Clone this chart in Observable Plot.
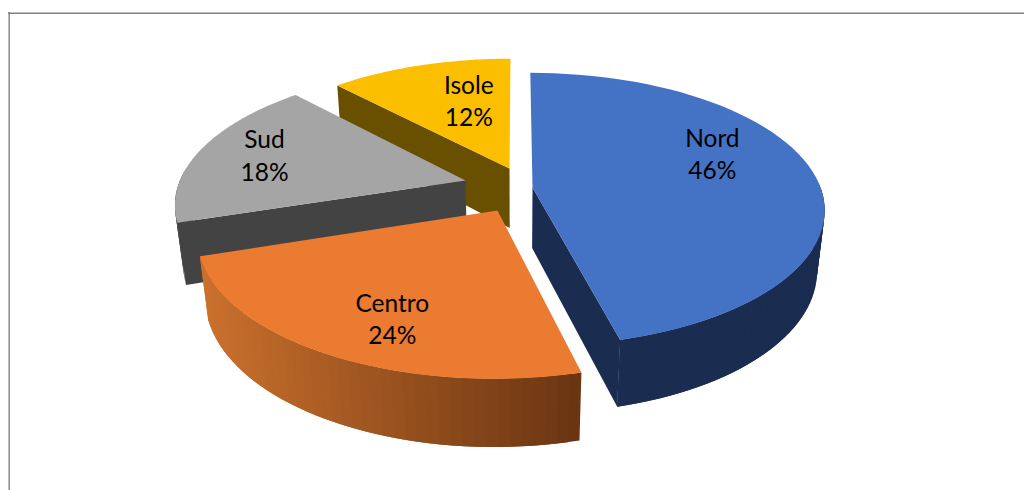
<!DOCTYPE html>
<html><head><meta charset="utf-8">
<style>html,body{margin:0;padding:0;background:#fff}svg{display:block}</style>
<script src="https://cdn.jsdelivr.net/npm/d3@7"></script>
<script src="https://cdn.jsdelivr.net/npm/@observablehq/plot@0.6"></script>
</head><body><script>
const categories = ["Nord","Centro","Sud","Isole"];
const percents = [46,24,18,12];
const topColors = ["#4472c4","#ea7b30","#a5a5a5","#fbbf00"];
const cutColors = ["#1a2c50","#8a4a1c","#434343","#685000"];
const wallFrom = ["#1f3461","#6b3512","#4a4a4a","#685000"];
const wallTo   = ["#1a2c50","#cb712d","#4a4a4a","#685000"];
const offsetX = [0.0556,-0.0643,-0.1785,-0.0248];
const offsetY = [0,-0.169,0.054,0.146];
const labelRadius = [0.70,0.754,0.755,0.599];
const labelAngle = [68.7,204.1,284.6,344.5];

// camera
const cam = {cx:516, cy:187, a:288, b:133, k:0.16, c:62, m:0.025};
const project = (X,Y,down) => {
  const w = 1 + cam.k*Y + cam.m*down;
  return [cam.cx + cam.a*X/w, cam.cy + (-cam.b*Y + cam.c*down)/w];
};
const rad = d => d*Math.PI/180;
const rim = (i,ang,down) => project(offsetX[i]+Math.sin(rad(ang)), offsetY[i]+Math.cos(rad(ang)), down);
const apex = (i,down) => project(offsetX[i], offsetY[i], down);

let start = 0;
const slices = categories.map((name,i)=>{ const s={name,i,a0:start,a1:start+percents[i]*3.6}; start=s.a1; return s; });

const polys = [];
const add = (id,color,pts) => pts.forEach(p => polys.push({id,color,x:p[0],y:p[1]}));
for (const i of [3,2,0,1]) {
  const s = slices[i];
  // outer curved wall: overlapping strips facing the viewer, shaded by horizontal position
  const n = Math.ceil((s.a1-s.a0)/2);
  const shade = d3.interpolateRgb(wallFrom[i],wallTo[i]);
  const xs = d3.extent(d3.range(n+1),j=>rim(i,s.a0+(s.a1-s.a0)*j/n,0)[0]);
  for (let j=0;j<n;j++){
    const u0=s.a0+(s.a1-s.a0)*j/n, u1=Math.min(s.a1,s.a0+(s.a1-s.a0)*(j+2)/n);
    if (Math.cos(rad(u0))>0.05) continue;
    const sx=rim(i,u0,0)[0];
    const t = i===0 ? Math.min(1,(xs[0]+30<sx)?1:0) : (xs[1]-sx)/(xs[1]-xs[0]);
    add(`w${i}-${j}`,shade(t),[rim(i,u0,0),rim(i,u1,0),rim(i,u1,1),rim(i,u0,1),rim(i,u0,0)]);
  }
  // straight cut faces: only those turned towards the viewer
  for (const [tag,ang,sign] of [["a",s.a0,-1],["b",s.a1,1]]) {
    if (sign*Math.cos(rad(ang+90)) < -0.01)
      add(`c${i}${tag}`,cutColors[i],[apex(i,0),rim(i,ang,0),rim(i,ang,1),apex(i,1),apex(i,0)]);
  }
  // top face
  const pts=[apex(i,0)];
  for(let j=0;j<=60;j++) pts.push(rim(i,s.a0+(s.a1-s.a0)*j/60,0));
  pts.push(apex(i,0));
  add(`t${i}`,topColors[i],pts);
}

const labels = slices.map((s,i)=>{
  const p = project(offsetX[i]+labelRadius[i]*Math.sin(rad(labelAngle[i])),
                    offsetY[i]+labelRadius[i]*Math.cos(rad(labelAngle[i])),0);
  return {x:p[0],y:p[1],text:`${s.name}\n${percents[i]}%`};
});

const frameTop = [{x1:8,x2:1024,y:12.7}];
const frameLeft = [{x:8.7,y1:12,y2:490}];

document.body.append(Plot.plot({
  width:1024,height:490,margin:0,
  style:{background:"#fff"},
  x:{domain:[0,1024],range:[0,1024],axis:null},
  y:{domain:[0,490],range:[0,490],axis:null},
  color:{type:"identity"},
  marks:[
    Plot.ruleY(frameTop,{x1:"x1",x2:"x2",y:"y",stroke:"#808080",strokeWidth:1.4}),
    Plot.ruleX(frameLeft,{x:"x",y1:"y1",y2:"y2",stroke:"#808080",strokeWidth:1.4}),
    Plot.line(polys,{x:"x",y:"y",z:"id",fill:"color",stroke:null,curve:"linear"}),
    Plot.text(labels,{x:"x",y:"y",dy:-2,text:"text",fill:"#000",fontSize:24.5,lineHeight:1.31,fontFamily:"Lato",textAnchor:"middle"})
  ]
}));
</script></body></html>
